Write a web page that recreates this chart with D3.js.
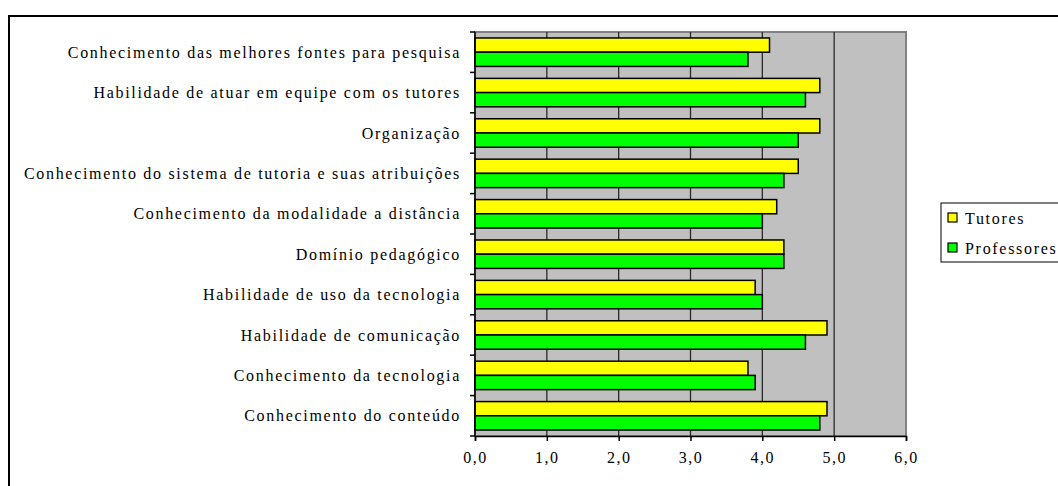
<!DOCTYPE html>
<html>
<head>
<meta charset="utf-8">
<script src="https://cdn.jsdelivr.net/npm/d3@7"></script>
<style>
body { margin: 0; background: white; }
</style>
</head>
<body>
<svg id="chart" width="1058" height="486"></svg>
<script>
// categories top to bottom, as in the picture
var categories = [
    "Conhecimento das melhores fontes para pesquisa",
    "Habilidade de atuar em equipe com os tutores",
    "Organização",
    "Conhecimento do sistema de tutoria e suas atribuições",
    "Conhecimento da modalidade a distância",
    "Domínio pedagógico",
    "Habilidade de uso da tecnologia",
    "Habilidade de comunicação",
    "Conhecimento da tecnologia",
    "Conhecimento do conteúdo"
];
var tutores     = [4.1, 4.8, 4.8, 4.5, 4.2, 4.3, 3.9, 4.9, 3.8, 4.9];
var professores = [3.8, 4.6, 4.5, 4.3, 4.0, 4.3, 4.0, 4.6, 3.9, 4.8];
var series_names = ["Tutores", "Professores"];
var series_colors = ["#ffff00", "#00ff00"];
var x_ticks = [0, 1, 2, 3, 4, 5, 6];

var font = "'Liberation Serif', 'Times New Roman', serif";
var svg = d3.select("#chart");
// note: "top" is taken by window.top, so plot_ prefix
var plot_left = 475, plot_right = 906, plot_top = 32, plot_bottom = 436;

// outer frame
svg.append("rect").attr("x", 9).attr("y", 16).attr("width", 1070).attr("height", 500)
    .attr("fill", "none").attr("stroke", "#000").attr("stroke-width", 2);

var x = d3.scaleLinear().domain([0, 6]).range([plot_left, plot_right]);
var y = d3.scaleBand().domain(categories).range([plot_top, plot_bottom]);
var sub = d3.scaleBand().domain(series_names).range([0, y.bandwidth()]).paddingInner(0).paddingOuter(0.42);

svg.append("rect").attr("x", plot_left).attr("y", plot_top)
    .attr("width", plot_right - plot_left).attr("height", plot_bottom - plot_top)
    .attr("fill", "#c0c0c0").attr("stroke", "#808080").attr("stroke-width", 2);

// gridlines
svg.append("g").selectAll("line").data(x_ticks.slice(1, -1)).enter().append("line")
    .attr("x1", function(d) { return x(d); }).attr("x2", function(d) { return x(d); })
    .attr("y1", plot_top).attr("y2", plot_bottom)
    .attr("stroke", "#2a2a2a").attr("stroke-width", 1.3);

var rows = [];
categories.forEach(function(c, i) {
    rows.push({cat: c, s: "Tutores", v: tutores[i], color: series_colors[0]});
    rows.push({cat: c, s: "Professores", v: professores[i], color: series_colors[1]});
});

svg.append("g").selectAll("rect").data(rows).enter().append("rect")
    .attr("x", x(0))
    .attr("y", function(d) { return y(d.cat) + sub(d.s); })
    .attr("width", function(d) { return x(d.v) - x(0); })
    .attr("height", sub.bandwidth())
    .attr("fill", function(d) { return d.color; })
    .attr("stroke", "#000").attr("stroke-width", 1.5);

// x axis
var xAxis = svg.append("g").attr("transform", "translate(0," + plot_bottom + ")")
    .call(d3.axisBottom(x).tickValues(x_ticks).tickSize(5).tickPadding(11)
        .tickFormat(function(d) { return d3.format(".1f")(d).replace(".", ","); }));
xAxis.attr("font-family", font).attr("font-size", 16);
xAxis.select(".domain").attr("stroke", "#000").attr("stroke-width", 1.5);
xAxis.selectAll(".tick line").attr("stroke", "#000").attr("stroke-width", 1.5);
xAxis.selectAll("text").attr("letter-spacing", 1.5);

// y axis: ticks on band edges, labels centred in bands
var yAxis = svg.append("g").attr("transform", "translate(" + plot_left + ",0)");
yAxis.append("line").attr("x1", 0).attr("x2", 0).attr("y1", plot_top).attr("y2", plot_bottom)
    .attr("stroke", "#000").attr("stroke-width", 1.5);
var edges = categories.map(function(c) { return y(c); }).concat([plot_bottom]);
yAxis.selectAll("line.tick").data(edges).enter().append("line").attr("class", "tick")
    .attr("x1", -5).attr("x2", 0)
    .attr("y1", function(d) { return d; }).attr("y2", function(d) { return d; })
    .attr("stroke", "#000").attr("stroke-width", 1.5);
yAxis.selectAll("text").data(categories).enter().append("text")
    .attr("x", -14)
    .attr("y", function(d) { return y(d) + y.bandwidth() / 2; })
    .attr("dy", "0.35em")
    .attr("text-anchor", "end")
    .attr("font-family", font)
    .attr("font-size", 16)
    .attr("letter-spacing", 1.7)
    .text(function(d) { return d; });

// legend
var legend = svg.append("g");
legend.append("rect").attr("x", 941).attr("y", 203).attr("width", 140).attr("height", 59)
    .attr("fill", "white").attr("stroke", "#000").attr("stroke-width", 1);
series_names.forEach(function(name, i) {
    var ly = 218 + i * 30;
    legend.append("rect").attr("x", 948).attr("y", ly - 5).attr("width", 9).attr("height", 9)
        .attr("fill", series_colors[i]).attr("stroke", "#000").attr("stroke-width", 1.2);
    legend.append("text").attr("x", 965).attr("y", ly).attr("dy", "0.35em")
        .attr("font-family", font).attr("font-size", 16)
        .attr("letter-spacing", 1.7).text(name);
});
</script>
</body>
</html>
